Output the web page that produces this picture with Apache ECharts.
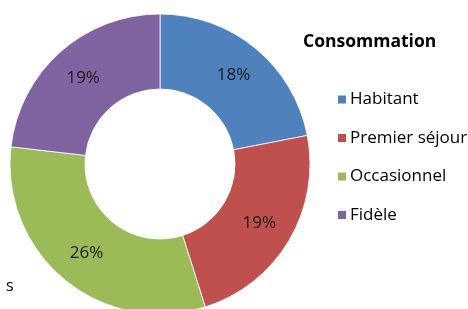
<!DOCTYPE html>
<html><head><meta charset="utf-8">
<script src="https://cdn.jsdelivr.net/npm/echarts@6/dist/echarts.min.js"></script>
<style>html,body{margin:0;padding:0;background:#fff}#c{width:468px;height:309px}</style>
</head><body><div id="c"></div>
<script>
const categories = ['Habitant', 'Premier séjour', 'Occasionnel', 'Fidèle'];
const values = [18, 19, 26, 19];
const colors = ['#4F81BD', '#C0504D', '#9BBB59', '#8064A2'];
const titleText = 'Consommation';
const strayText = 's';

const chart = echarts.init(document.getElementById('c'), null, {renderer: 'canvas'});
const font = '"Open Sans", "Noto Sans", sans-serif';
chart.setOption({
  animation: false,
  color: colors,
  title: [{
    text: titleText, left: 298, top: 28,
    textStyle: {fontFamily: font, fontWeight: 'bold', fontSize: 17.5, color: '#000'}
  }, {
    text: strayText, left: 1, top: 273,
    textStyle: {fontFamily: font, fontWeight: 'normal', fontSize: 16, color: '#000'}
  }],
  legend: {
    orient: 'vertical', left: 331, top: 86,
    itemWidth: 10, itemHeight: 10, itemGap: 21.5,
    icon: 'rect',
    data: categories,
    textStyle: {fontFamily: font, fontSize: 17, color: '#000', padding: [0,0,0,-2]}
  },
  series: [{
    type: 'pie',
    center: [160, 164],
    radius: [75, 150],
    startAngle: 90,
    clockwise: true,
    avoidLabelOverlap: false,
    itemStyle: {borderColor: '#fff', borderWidth: 0.8},
    label: {
      show: true, position: 'inside', formatter: '{c}%',
      fontFamily: font, fontSize: 17, color: '#1a1a1a'
    },
    labelLine: {show: false},
    emphasis: {disabled: true},
    data: categories.map((n, i) => ({name: n, value: values[i]}))
  }]
});
</script></body></html>
